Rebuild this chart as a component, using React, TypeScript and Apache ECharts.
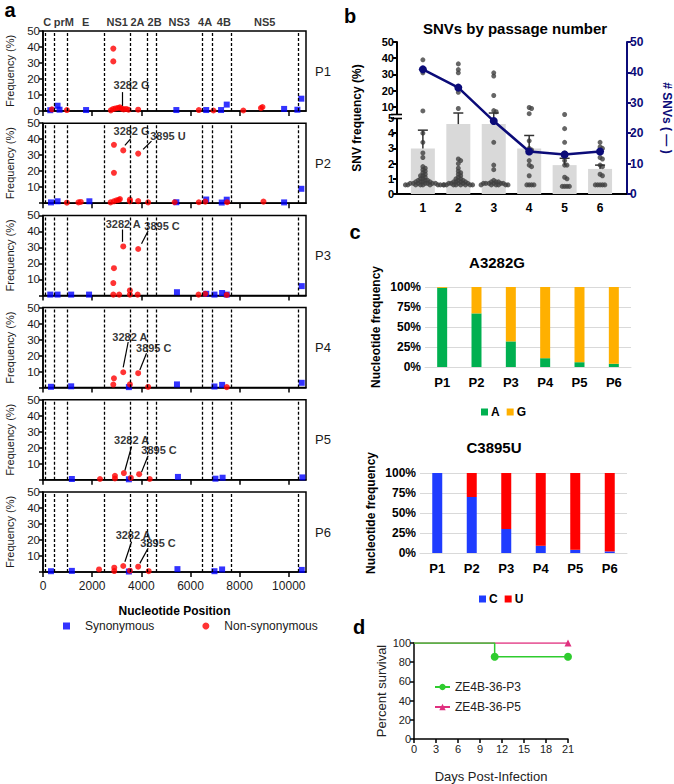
import React, { useEffect, useRef } from "react";
import * as echarts from "echarts";

const FONT = "'Liberation Sans', Arial, Helvetica, sans-serif";

// ---------------- Panel a : SNVs along the genome ----------------
const passageNames = ["P1", "P2", "P3", "P4", "P5", "P6"];
const genomeLength = 10700;
const positionTicks = [0, 2000, 4000, 6000, 8000, 10000];
const frequencyTicks = [0, 10, 20, 30, 40, 50];
const geneNames = ["C", "prM", "E", "NS1", "2A", "2B", "NS3", "4A", "4B", "NS5"];
const geneStarts = [107, 474, 978, 2490, 3546, 4224, 4614, 6465, 6891, 7667];
const geneEnds = [473, 977, 2489, 3545, 4223, 4613, 6464, 6890, 7666, 10375];
const geneBoundaries = [107, 473, 977, 2489, 3545, 4223, 4613, 6464, 6890, 7666, 10375];
// small horizontal nudges (px) so neighbouring gene labels do not collide
const geneLabelNudge = [-3, 3, 0, 0, -1, 3, 0, -2, 2, 0];

// [nucleotide position, frequency %]
const synP1 = [[296, 0.5], [592, 3.3], [673, 0.8], [1753, 0.6], [5425, 0.6], [6640, 0.6], [7245, 0.6], [7475, 4.0], [9810, 1.3], [10350, 0.8], [10510, 7.7]];
const nonSynP1 = [[364, 1.0], [971, 0.6], [2760, 0.4], [2860, 39], [2860, 31], [2850, 1.2], [2950, 1.6], [3050, 1.9], [3130, 2.3], [3200, 1.5], [3282, 1.0], [3380, 1.3], [3480, 0.8], [3872, 0.8], [6340, 0.6], [6935, 0.3], [8150, 0.3], [8866, 1.8], [8930, 2.5]];
const synP2 = [[324, 0.5], [592, 1.2], [1887, 1.2], [5425, 0.6], [6640, 2.3], [7272, 0.4], [7475, 2.2], [9810, 0.5], [10510, 9]];
const nonSynP2 = [[971, 0.3], [1442, 0.5], [1538, 0.8], [2887, 36.5], [2887, 19], [3265, 33], [3872, 31], [2750, 0.5], [2880, 1.2], [2990, 1.8], [3080, 2.0], [3130, 2.6], [3535, 1.2], [3535, 2.3], [3872, 1.3], [4277, 0.5], [5356, 0.6], [6340, 0.6], [6600, 1.0], [7490, 0.6], [8970, 1.0]];
const synP3 = [[296, 0.5], [592, 0.5], [1146, 0.5], [1874, 0.5], [5450, 2.0], [6640, 1.0], [6976, 0.5], [7287, 1.5], [7475, 0.5], [10526, 5.8]];
const nonSynP3 = [[3265, 30.6], [3872, 29], [2887, 17], [2860, 7.7], [2860, 0.5], [3100, 0.5], [3535, 3.1], [3535, 0.5], [3850, 0.5], [6328, 0.5], [6600, 1.0], [7475, 0.3]];
const synP4 = [[324, 0.5], [1146, 0.8], [3494, 0.3], [5450, 2.0], [6976, 0.7], [7287, 1.7], [10526, 3]];
const nonSynP4 = [[3265, 9.6], [3872, 9], [2887, 5.8], [2860, 1.9], [3535, 2.0], [4277, 0.4], [7475, 0.3]];
const synP5 = [[1174, 0.5], [3494, 0.3], [5490, 1.8], [7016, 0.7], [7307, 1.3], [10553, 1.5]];
const nonSynP5 = [[3290, 4.2], [3912, 3.5], [2927, 2.5], [2927, 0.8], [3575, 1.2], [2320, 0.5], [4344, 0.5]];
const synP6 = [[324, 0.5], [1174, 0.7], [3494, 0.3], [5470, 1.8], [6976, 0.5], [7287, 1.6], [10526, 1.3]];
const nonSynP6 = [[3265, 3.75], [3872, 3.3], [2900, 2.7], [2900, 0.6], [2280, 1.6], [3535, 0.8], [4300, 0.5]];
const synByPassage = [synP1, synP2, synP3, synP4, synP5, synP6];
const nonSynByPassage = [nonSynP1, nonSynP2, nonSynP3, nonSynP4, nonSynP5, nonSynP6];

// annotation: text, text anchor, arrow start, arrow end (data coordinates)
const annotations = [
  { passage: 0, text: "3282 G", at: [3603, 16.3], from: [3243, 11.8], to: [3243, 3.2] },
  { passage: 1, text: "3282 G", at: [3603, 45], from: [3563, 40.2], to: [3332, 36.1] },
  { passage: 1, text: "3895 U", at: [5085, 41.9], from: [4413, 38.8], to: [4073, 33.6] },
  { passage: 2, text: "3282 A", at: [3263, 44.8], from: [3239, 41.2], to: [3239, 33.5] },
  { passage: 2, text: "3895 C", at: [4842, 43.1], from: [4275, 40.3], to: [4008, 32.3] },
  { passage: 3, text: "3282 A", at: [3534, 31.9], from: [3466, 28.5], to: [3263, 12.7] },
  { passage: 3, text: "3895 C", at: [4506, 24.8], from: [4211, 21.5], to: [3939, 11] },
  { passage: 4, text: "3282 A", at: [3603, 25], from: [3603, 20.8], to: [3332, 5.8] },
  { passage: 4, text: "3895 C", at: [4721, 18.6], from: [4275, 15], to: [4008, 4.8] },
  { passage: 5, text: "3282 A", at: [3668, 23.1], from: [3603, 18.9], to: [3332, 6.4] },
  { passage: 5, text: "3895 C", at: [4680, 17.9], from: [4275, 14.8], to: [3939, 5.4] },
];

// ---------------- Panel b : SNVs by passage ----------------
const passageNumbers = [1, 2, 3, 4, 5, 6];
const snvCounts = [41, 35, 24, 14, 13, 14];
const meanFrequency = [3.0, 4.6, 4.6, 3.0, 1.9, 1.65];
const meanPlusSem = [4.2, 6.2, 6.2, 3.85, 2.35, 1.9];
const leftTickValues = [0, 1, 2, 3, 4, 5, 10, 20, 30, 40, 50];
const rightTickValues = [0, 10, 20, 30, 40, 50];
const snvFreqP1 = [39, 31, 7.5, 4, 3.4, 2.7, 2.4, 1.8, 1.7, 1.6, 1.5, 1.4, 1.3, 1.2, 1.2, 1.1, 1.0, 1.0, 0.9, 0.9, 0.9, 0.8, 0.8, 0.8, 0.8, 0.7, 0.7, 0.7, 0.7, 0.7, 0.7, 0.7, 0.6, 0.6, 0.6, 0.6, 0.6, 0.6, 0.6, 0.6, 0.6];
const snvFreqP2 = [36.5, 33, 31, 19, 9, 2.3, 2.2, 2.0, 1.7, 1.5, 1.4, 1.3, 1.2, 1.1, 1.0, 1.0, 0.9, 0.9, 0.8, 0.8, 0.8, 0.8, 0.7, 0.7, 0.7, 0.7, 0.7, 0.6, 0.6, 0.6, 0.6, 0.6, 0.6, 0.6, 0.6];
const snvFreqP3 = [31, 29, 17, 7.7, 7, 3.4, 1.9, 1.6, 0.9, 0.8, 0.8, 0.8, 0.7, 0.7, 0.7, 0.7, 0.7, 0.7, 0.6, 0.6, 0.6, 0.6, 0.6, 0.6];
const snvFreqP4 = [9.6, 9, 5.8, 3.5, 3.0, 2.9, 2.2, 1.9, 1.8, 1.2, 0.6, 0.6, 0.6, 0.6];
const snvFreqP5 = [5.3, 4.3, 3.4, 2.7, 2.2, 1.9, 1.9, 1.1, 1.0, 0.5, 0.5, 0.5, 0.5];
const snvFreqP6 = [3.4, 3.1, 3.0, 2.4, 2.3, 1.9, 1.8, 1.3, 1.2, 0.6, 0.6, 0.6, 0.6, 0.6];
const snvFreqByPassage = [snvFreqP1, snvFreqP2, snvFreqP3, snvFreqP4, snvFreqP5, snvFreqP6];

// ---------------- Panel c : nucleotide frequency ----------------
const passageLabels = ["P1", "P2", "P3", "P4", "P5", "P6"];
const a3282A = [99, 67, 32, 11, 6, 4];
const a3282G = [1, 33, 68, 89, 94, 96];
const c3895C = [100, 70, 30, 9, 4, 2];
const c3895U = [0, 30, 70, 91, 96, 98];

// ---------------- Panel d : survival ----------------
const daysP3 = [0, 11, 21];
const survivalP3 = [100, 85.7, 85.7];
const daysP5 = [0, 21];
const survivalP5 = [100, 100];

// broken-axis mapping for panel b (lower 0-5 linear, upper 5-50 compressed)
const dOf = (v: number) => (v <= 5 ? v : 5.2 + (v - 5) * (4.8 / 45));
const vOf = (d: number) => (d <= 5.1 ? d : 5 + (d - 5.2) * (45 / 4.8));

// layout
const A_LEFT = 43, A_WIDTH = 263, A_HEIGHT = 80;
const aTop = (i: number) => 31 + i * 92.2;
const B = { left: 397, top: 42, width: 232, height: 152, xmin: 0.27, xmax: 6.76, dmax: 10 };

function swarm(values: number[], center: number) {
  const pxPerX = B.width / (B.xmax - B.xmin);
  const pxPerD = B.height / B.dmax;
  const r = 2.4;
  const placed: { x: number; y: number }[] = [];
  const out: number[][] = [];
  const sorted = [...values].sort((a, b) => b - a);
  for (const v of sorted) {
    const y = dOf(v) * pxPerD;
    let chosen = 0;
    for (let k = 0; k < 200; k++) {
      const off = k === 0 ? 0 : (k % 2 === 1 ? 1 : -1) * Math.ceil(k / 2) * 0.8;
      const ok = placed.every((p) => (p.x - off) ** 2 + (p.y - y) ** 2 >= r * r);
      if (ok) { chosen = off; break; }
    }
    placed.push({ x: chosen, y });
    out.push([center + chosen / pxPerX, dOf(v)]);
  }
  return out;
}

function buildOption(): any {
  const grids: any[] = [];
  const xAxes: any[] = [];
  const yAxes: any[] = [];
  const series: any[] = [];
  const black = "#000";
  const txt = "#1a1a1a";

  // ---- panel a ----
  for (let i = 0; i < 6; i++) {
    grids.push({ left: A_LEFT, top: aTop(i), width: A_WIDTH, height: A_HEIGHT, show: true, borderColor: black, borderWidth: 1.5, backgroundColor: "transparent" });
    xAxes.push({
      type: "value", gridIndex: i, min: 0, max: genomeLength,
      axisLine: { show: true, lineStyle: { color: black, width: 1.5 } },
      axisTick: { show: true, length: 5, lineStyle: { color: black, width: 1.5 }, customValues: positionTicks },
      axisLabel: { show: i === 5, fontSize: 12, color: txt, fontFamily: FONT, margin: 8, customValues: positionTicks, formatter: (v: number) => String(v) },
      splitLine: { show: false },
      name: i === 5 ? "Nucleotide Position" : "",
      nameLocation: "middle", nameGap: 33,
      nameTextStyle: { fontSize: 12, fontWeight: "bold", color: black, fontFamily: FONT },
    });
    const labelTicks = i === 0 ? frequencyTicks : frequencyTicks.filter((t) => t > 0);
    yAxes.push({
      type: "value", gridIndex: i, min: 0, max: 50,
      axisLine: { show: true, lineStyle: { color: black, width: 1.5 } },
      axisTick: { show: true, length: 4, lineStyle: { color: black, width: 1.5 }, customValues: frequencyTicks },
      axisLabel: { fontSize: 11.5, color: txt, fontFamily: FONT, margin: 3, customValues: labelTicks, formatter: (v: number) => String(v) },
      splitLine: { show: false },
      name: "Frequency (%)", nameLocation: "middle", nameGap: 28,
      nameTextStyle: { fontSize: 11, color: txt, fontFamily: FONT },
    });
    series.push({
      name: "Synonymous", type: "scatter", xAxisIndex: i, yAxisIndex: i,
      symbol: "rect", symbolSize: 6, itemStyle: { color: "#0000ff" },
      data: synByPassage[i], z: 3,
      markLine: {
        silent: true, symbol: ["none", "none"], label: { show: false },
        lineStyle: { color: black, type: [3, 2], width: 1.3 },
        data: geneBoundaries.map((b) => ({ xAxis: b })),
      },
    });
    series.push({
      name: "Non-synonymous", type: "scatter", xAxisIndex: i, yAxisIndex: i,
      symbol: "circle", symbolSize: 6, itemStyle: { color: "#ff0000" },
      data: nonSynByPassage[i], z: 4,
    });
    const ann = annotations.filter((a) => a.passage === i);
    series.push({
      name: "annot" + i, type: "scatter", xAxisIndex: i, yAxisIndex: i,
      symbolSize: 1, itemStyle: { color: "transparent" }, z: 6,
      label: { show: true, position: "inside", formatter: "{b}", fontSize: 11, fontWeight: "bold", color: black, fontFamily: FONT },
      data: ann.map((a) => ({ name: a.text, value: a.at })),
      markLine: {
        silent: true, symbol: ["none", "arrow"], symbolSize: [0, 7], label: { show: false },
        lineStyle: { color: black, type: "solid", width: 1.2 },
        data: ann.map((a) => [{ coord: a.from }, { coord: a.to }]),
      },
    });
    if (i === 0) {
      series.push({
        name: "genes", type: "scatter", xAxisIndex: 0, yAxisIndex: 0, symbolSize: 1,
        itemStyle: { color: "transparent" },
        data: geneNames.map((n, k) => ({
          name: n, value: [(geneStarts[k] + geneEnds[k]) / 2, 50],
          label: { show: true, position: "top", distance: 3, offset: [geneLabelNudge[k], 0], formatter: "{b}", fontSize: 11, fontWeight: "bold", color: black, fontFamily: FONT },
        })),
      });
    }
  }

  // ---- panel b (grid 6) ----
  grids.push({ left: B.left, top: B.top, width: B.width, height: B.height });
  xAxes.push({
    type: "value", gridIndex: 6, min: B.xmin, max: B.xmax,
    axisLine: { show: true, lineStyle: { color: black, width: 2 } },
    axisTick: { show: false },
    axisLabel: { fontSize: 12, fontWeight: "bold", color: black, fontFamily: FONT, margin: 8, customValues: passageNumbers },
    splitLine: { show: false },
  });
  const leftD = leftTickValues.map(dOf);
  yAxes.push({
    type: "value", gridIndex: 6, min: 0, max: B.dmax, position: "left",
    axisLine: { show: true, lineStyle: { color: black, width: 2 } },
    axisTick: { show: true, length: 4, lineStyle: { color: black, width: 2 }, customValues: leftD },
    axisLabel: { fontSize: 11, fontWeight: "bold", color: black, fontFamily: FONT, margin: 3, customValues: leftD, formatter: (v: number) => String(Math.round(vOf(v))) },
    splitLine: { show: false },
    name: "SNV frequency (%)", nameLocation: "middle", nameGap: 34,
    nameTextStyle: { fontSize: 12, fontWeight: "bold", color: black, fontFamily: FONT },
  });
  const navy = "#0b0b78";
  yAxes.push({
    type: "value", gridIndex: 6, min: 0, max: 50, position: "right",
    axisLine: { show: true, lineStyle: { color: navy, width: 2 } },
    axisTick: { show: true, length: 4, lineStyle: { color: navy, width: 2 }, customValues: rightTickValues },
    axisLabel: { fontSize: 12, fontWeight: "bold", color: navy, fontFamily: FONT, margin: 3, customValues: rightTickValues },
    splitLine: { show: false },
    name: "# SNVs ( — )", nameLocation: "middle", nameGap: 34, nameRotate: -90,
    nameTextStyle: { fontSize: 12, fontWeight: "bold", color: navy, fontFamily: FONT },
  });
  const barIdx = 6;
  series.push({
    name: "meanBar", type: "custom", xAxisIndex: barIdx, yAxisIndex: 6, z: 2,
    encode: { x: 0, y: 1 },
    data: passageNumbers.map((p, k) => [p, dOf(meanFrequency[k])]),
    renderItem: (params: any, api: any) => {
      const x = api.value(0), y = api.value(1);
      const p = api.coord([x, y]);
      const p0 = api.coord([x, 0]);
      return { type: "rect", shape: { x: p[0] - 12, y: p[1], width: 24, height: p0[1] - p[1] }, style: { fill: "#d9d9d9" } };
    },
  });
  passageNumbers.forEach((p, k) => {
    series.push({
      name: "dots" + p, type: "scatter", xAxisIndex: barIdx, yAxisIndex: 6, z: 3,
      symbol: "circle", symbolSize: 5, itemStyle: { color: "#404040" },
      data: swarm(snvFreqByPassage[k], p),
    });
  });
  series.push({
    name: "sem", type: "custom", xAxisIndex: barIdx, yAxisIndex: 6, z: 4,
    encode: { x: 0, y: 2 },
    data: passageNumbers.map((p, k) => [p, meanFrequency[k], meanPlusSem[k]]),
    renderItem: (params: any, api: any) => {
      const x = api.value(0);
      const a = api.coord([x, dOf(api.value(1))]);
      const b = api.coord([x, dOf(api.value(2))]);
      return {
        type: "group",
        children: [
          { type: "line", shape: { x1: a[0], y1: a[1], x2: b[0], y2: b[1] }, style: { stroke: "#333", lineWidth: 1.5 } },
          { type: "line", shape: { x1: b[0] - 5, y1: b[1], x2: b[0] + 5, y2: b[1] }, style: { stroke: "#333", lineWidth: 1.5 } },
        ],
      };
    },
  });
  series.push({
    name: "#SNVs", type: "line", xAxisIndex: barIdx, yAxisIndex: 7, z: 6,
    data: passageNumbers.map((p, k) => [p, snvCounts[k]]),
    symbol: "circle", symbolSize: 8, itemStyle: { color: navy }, lineStyle: { color: navy, width: 2.5 },
  });

  // ---- panel c (grids 7, 8) ----
  const cGrids = [
    { left: 425, top: 287, width: 206, height: 80 },
    { left: 420, top: 473, width: 207, height: 80 },
  ];
  const cSeries = [
    [{ name: "A", data: a3282A, color: "#00b050" }, { name: "G", data: a3282G, color: "#ffb000" }],
    [{ name: "C", data: c3895C, color: "#1f3cff" }, { name: "U", data: c3895U, color: "#ff0000" }],
  ];
  cGrids.forEach((g, j) => {
    const gi = 7 + j;
    grids.push(g);
    xAxes.push({
      type: "category", gridIndex: gi, data: passageLabels,
      axisLine: { show: true, lineStyle: { color: "#d9d9d9", width: 1 } },
      axisTick: { show: false },
      axisLabel: { fontSize: 13, fontWeight: "bold", color: black, fontFamily: FONT, margin: 9 },
    });
    yAxes.push({
      type: "value", gridIndex: gi, min: 0, max: 100, interval: 25,
      axisLine: { show: false }, axisTick: { show: false },
      axisLabel: { fontSize: 12, fontWeight: "bold", color: black, fontFamily: FONT, margin: 4, formatter: "{value}%" },
      splitLine: { show: true, lineStyle: { color: "#d9d9d9", width: 1 } },
      name: "Nucleotide frequency", nameLocation: "middle", nameGap: 43,
      nameTextStyle: { fontSize: 12, fontWeight: "bold", color: black, fontFamily: FONT },
    });
    cSeries[j].forEach((s) => {
      series.push({
        name: s.name, type: "bar", stack: "c" + j, xAxisIndex: 7 + j, yAxisIndex: 8 + j,
        barWidth: 10, itemStyle: { color: s.color }, data: s.data,
      });
    });
  });

  // ---- panel d (grid 9) ----
  grids.push({ left: 414, top: 643, width: 154, height: 101 });
  xAxes.push({
    type: "value", gridIndex: 9, min: 0, max: 21, interval: 3,
    axisLine: { show: true, lineStyle: { color: black, width: 1.5 } },
    axisTick: { show: true, length: 4, lineStyle: { color: black, width: 1.5 } },
    axisLabel: { fontSize: 11, color: "#222", fontFamily: FONT, margin: 4 },
    splitLine: { show: false },
    name: "Days Post-Infection", nameLocation: "middle", nameGap: 31,
    nameTextStyle: { fontSize: 13, color: "#222", fontFamily: FONT },
  });
  yAxes.push({
    type: "value", gridIndex: 9, min: 0, max: 100, interval: 20,
    axisLine: { show: true, lineStyle: { color: black, width: 1.5 } },
    axisTick: { show: true, length: 4, lineStyle: { color: black, width: 1.5 } },
    axisLabel: { fontSize: 11, color: "#222", fontFamily: FONT, margin: 3 },
    splitLine: { show: false },
    name: "Percent survival", nameLocation: "middle", nameGap: 26,
    nameTextStyle: { fontSize: 13, color: "#222", fontFamily: FONT },
  });
  const green = "#2ecc2e", pink = "#e0307f";
  series.push({
    name: "ZE4B-36-P3", type: "line", step: "end", xAxisIndex: 9, yAxisIndex: 10, z: 5,
    symbol: "circle", symbolSize: 8, itemStyle: { color: green }, lineStyle: { color: green, width: 1.5 },
    data: daysP3.map((d, k) => (k === 0 ? { value: [d, survivalP3[k]], symbol: "none" } : [d, survivalP3[k]])),
  });
  series.push({
    name: "ZE4B-36-P5", type: "line", step: "end", xAxisIndex: 9, yAxisIndex: 10, z: 4,
    symbol: "triangle", symbolSize: 7, itemStyle: { color: pink }, lineStyle: { color: pink, width: 1.5 },
    data: daysP5.map((d, k) => (k === 0 ? { value: [d, survivalP5[k]], symbol: "none" } : [d, survivalP5[k]])),
  });

  // ---- graphics ----
  const graphic: any[] = [];
  const letter = (t: string, x: number, y: number) => ({
    type: "text", x, y, z: 100,
    style: { text: t, fontSize: 20, fontWeight: "bold", fontFamily: FONT, fill: black, align: "center", verticalAlign: "middle" },
  });
  graphic.push(letter("a", 10, 10), letter("b", 350, 16), letter("c", 355, 232), letter("d", 359, 627));
  passageNames.forEach((p, i) => {
    graphic.push({
      type: "text", x: 315, y: aTop(i) + A_HEIGHT / 2, z: 100,
      style: { text: p, fontSize: 13, fontFamily: FONT, fill: txt, align: "left", verticalAlign: "middle" },
    });
  });
  const titleText = (t: string, x: number, y: number, size: number) => ({
    type: "text", x, y, z: 100,
    style: { text: t, fontSize: size, fontWeight: "bold", fontFamily: FONT, fill: black, align: "center", verticalAlign: "middle" },
  });
  graphic.push(titleText("SNVs by passage number", 515, 28, 15));
  graphic.push(titleText("A3282G", 497, 262, 15));
  graphic.push(titleText("C3895U", 494, 447, 15));
  // axis break marks on panel b
  const yBreak = B.top + B.height * (1 - 5.1 / B.dmax);
  graphic.push({ type: "rect", z: 100, shape: { x: B.left - 3, y: yBreak - 2, width: 6, height: 4 }, style: { fill: "#fff" } });
  graphic.push({ type: "line", z: 101, shape: { x1: B.left - 6, y1: yBreak - 2, x2: B.left + 5, y2: yBreak - 2 }, style: { stroke: black, lineWidth: 1.6 } });
  graphic.push({ type: "line", z: 101, shape: { x1: B.left - 6, y1: yBreak + 2, x2: B.left + 5, y2: yBreak + 2 }, style: { stroke: black, lineWidth: 1.6 } });

  const legends = [
    {
      data: ["Synonymous", "Non-synonymous"], left: 58, top: 615, itemGap: 48, itemWidth: 7, itemHeight: 7,
      textStyle: { fontSize: 12, color: txt, fontFamily: FONT, padding: [0, 0, 0, 10] }, selectedMode: false,
    },
    {
      data: [{ name: "A", icon: "rect" }, { name: "G", icon: "rect" }], left: 476, top: 401, itemGap: 7, itemWidth: 7, itemHeight: 7,
      textStyle: { fontSize: 12, fontWeight: "bold", color: black, fontFamily: FONT, padding: [0, 0, 0, -2] }, selectedMode: false,
    },
    {
      data: [{ name: "C", icon: "rect" }, { name: "U", icon: "rect" }], left: 474, top: 588, itemGap: 7, itemWidth: 7, itemHeight: 7,
      textStyle: { fontSize: 12, fontWeight: "bold", color: black, fontFamily: FONT, padding: [0, 0, 0, -2] }, selectedMode: false,
    },
    {
      data: ["ZE4B-36-P3", "ZE4B-36-P5"], orient: "vertical", left: 429, top: 676, itemGap: 8, itemWidth: 15, itemHeight: 8,
      textStyle: { fontSize: 12, color: "#222", fontFamily: FONT }, selectedMode: false,
    },
  ];

  return {
    animation: false,
    backgroundColor: "#fff",
    textStyle: { fontFamily: FONT },
    grid: grids,
    xAxis: xAxes,
    yAxis: yAxes,
    legend: legends,
    series,
    graphic,
  };
}

export default function App() {
  const ref = useRef<HTMLDivElement>(null);
  useEffect(() => {
    if (!ref.current) return;
    const chart = echarts.init(ref.current, null, { renderer: "svg" });
    chart.setOption(buildOption());
    return () => chart.dispose();
  }, []);
  return <div ref={ref} style={{ position: "absolute", left: 0, top: 0, width: 674, height: 784, background: "#fff" }} />;
}
